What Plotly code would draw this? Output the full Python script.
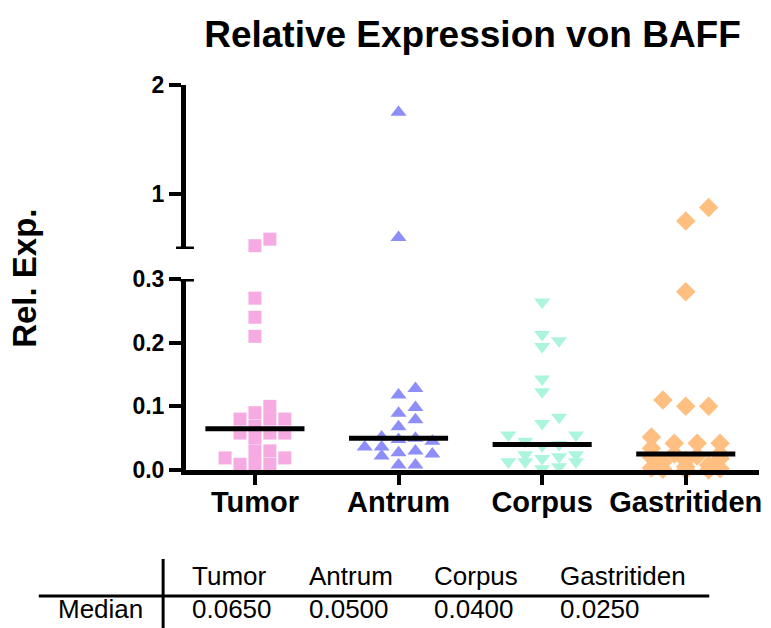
import plotly.graph_objects as go

# ---------------- data ----------------
categories = ["Tumor", "Antrum", "Corpus", "Gastritiden"]
tumor = [0.59, 0.53, 0.27, 0.24, 0.21, 0.10, 0.09, 0.08, 0.08, 0.08, 0.069,
         0.058, 0.058, 0.058, 0.05, 0.03, 0.029, 0.019, 0.019, 0.009, 0.009, 0.009]
antrum = [1.75, 0.606, 0.128, 0.118, 0.098, 0.089, 0.079, 0.068, 0.052, 0.05,
          0.048, 0.045, 0.036, 0.036, 0.03, 0.027, 0.025, 0.022, 0.008, 0.008]
corpus = [0.264, 0.213, 0.203, 0.194, 0.143, 0.123, 0.083, 0.073, 0.055, 0.055,
          0.045, 0.04, 0.038, 0.024, 0.024, 0.021, 0.018, 0.013, 0.013, 0.013, 0.005, 0.002]
gastritiden = [0.879, 0.757, 0.28, 0.11, 0.10, 0.10, 0.052, 0.042, 0.042, 0.042, 0.034,
               0.025, 0.025, 0.022, 0.02, 0.018, 0.015, 0.012, 0.008, 0.005, 0.003,
               0.002, 0.001, 0.0, 0.0]
series = [tumor, antrum, corpus, gastritiden]
medians = [0.065, 0.050, 0.040, 0.025]
median_labels = ["0.0650", "0.0500", "0.0400", "0.0250"]
low_ticks = [0.0, 0.1, 0.2, 0.3]
low_ticktext = ["0.0", "0.1", "0.2", "0.3"]
high_ticks = [1, 2]
high_ticktext = ["1", "2"]

# ---------------- layout constants ----------------
W, H = 771, 628
ML, MR, MT, MB = 186, 9, 85, 158
PW, PH = W - ML - MR, H - MT - MB
XRANGE = [0.52, 4.51]
LOW_RANGE, HIGH_RANGE = [0.0, 0.3], [0.5, 2.0]
LOW_DOM, HIGH_DOM = [0.0, 0.496], [0.574, 1.0]
BREAK = 0.3
FONT = "Liberation Sans, Arial, Helvetica, sans-serif"
MAX_SPREAD_PX = 40

styles = [
    dict(symbol="square", size=13, color="#F5AAE2", sx=15, sy=12),
    dict(symbol="triangle-up", size=14, color="#8E8EF8", sx=17, sy=12),
    dict(symbol="triangle-down", size=14, color="#ABF5DC", sx=17, sy=12),
    dict(symbol="diamond", size=15, color="#FFBF80", sx=23, sy=15),
]

px_per_x = PW / (XRANGE[1] - XRANGE[0])


def value_to_py(v):
    if v <= BREAK:
        rng, dom = LOW_RANGE, LOW_DOM
    else:
        rng, dom = HIGH_RANGE, HIGH_DOM
    frac = dom[0] + (v - rng[0]) / (rng[1] - rng[0]) * (dom[1] - dom[0])
    return frac * PH


def beeswarm(values, sx, sy):
    order = sorted(range(len(values)), key=lambda i: values[i])
    placed = []
    offs = [0.0] * len(values)
    step = sx / 2.0
    cands = [0.0]
    j = 1
    while j * step <= MAX_SPREAD_PX + 1e-9:
        cands += [j * step, -j * step]
        j += 1
    for i in order:
        y = value_to_py(values[i])
        best, best_cost = None, None
        for c in cands:
            cost = 0.0
            for px, py in placed:
                dx, dy = abs(c - px), abs(y - py)
                if dx < sx and dy < sy:
                    cost += (sx - dx) * (sy - dy)
            if cost == 0:
                best = c
                break
            if best_cost is None or cost < best_cost:
                best, best_cost = c, cost
        placed.append((best, y))
        offs[i] = best / px_per_x
    return offs


def pxx(px):
    return (px - ML) / PW


def pxy(py):
    return (H - MB - py) / PH


fig = go.Figure()

for i, (vals, st) in enumerate(zip(series, styles)):
    offs = beeswarm(vals, st["sx"], st["sy"])
    xs = [i + 1 + o for o in offs]
    lo = [(x, v) for x, v in zip(xs, vals) if v <= BREAK]
    hi = [(x, v) for x, v in zip(xs, vals) if v > BREAK]
    mk = dict(symbol=st["symbol"], size=st["size"], color=st["color"], line=dict(width=0))
    fig.add_trace(go.Scatter(x=[p[0] for p in lo], y=[p[1] for p in lo], mode="markers",
                             marker=mk, yaxis="y", cliponaxis=False, showlegend=False,
                             name=categories[i]))
    if hi:
        fig.add_trace(go.Scatter(x=[p[0] for p in hi], y=[p[1] for p in hi], mode="markers",
                                 marker=mk, yaxis="y2", cliponaxis=False, showlegend=False,
                                 name=categories[i]))

# median lines
for i, m in enumerate(medians):
    fig.add_trace(go.Scatter(x=[i + 1 - 0.345, i + 1 + 0.345], y=[m, m], mode="lines",
                             line=dict(color="black", width=5), yaxis="y",
                             cliponaxis=False, showlegend=False, hoverinfo="skip"))

axis_common = dict(showline=True, linecolor="black", linewidth=5, ticks="outside",
                   tickcolor="black", tickwidth=4, ticklen=12, showgrid=False,
                   zeroline=False, tickfont=dict(family=FONT, size=23, color="black", weight="bold"))

fig.update_layout(
    width=W, height=H,
    margin=dict(l=ML, r=MR, t=MT, b=MB),
    paper_bgcolor="white", plot_bgcolor="white",
    title=dict(text="Relative Expression von BAFF", x=0.5, xref="paper", xanchor="center",
               y=1 - 34 / H, yanchor="middle",
               font=dict(family=FONT, size=37, color="black", weight="bold")),
    xaxis=dict(range=XRANGE, tickvals=[1, 2, 3, 4], ticktext=categories,
               showline=True, linecolor="black", linewidth=5, ticks="outside",
               tickcolor="black", tickwidth=4, ticklen=10, showgrid=False, zeroline=False,
               ticklabelstandoff=-8,
               anchor="y", tickfont=dict(family=FONT, size=29, color="black", weight="bold")),
    yaxis=dict(domain=LOW_DOM, range=LOW_RANGE, tickvals=low_ticks, ticktext=low_ticktext,
               anchor="x", **axis_common),
    yaxis2=dict(domain=HIGH_DOM, range=HIGH_RANGE, tickvals=high_ticks, ticktext=high_ticktext,
                anchor="x", **axis_common),
)

# axis-break caps
fig.add_shape(type="line", xref="paper", yref="y2", x0=pxx(176), x1=pxx(194), y0=0.5, y1=0.5,
              line=dict(color="black", width=5))
fig.add_shape(type="line", xref="paper", yref="y", x0=pxx(180), x1=pxx(194), y0=0.3, y1=0.3,
              line=dict(color="black", width=5))

# y title
fig.add_annotation(text="<b>Rel. Exp.</b>", xref="paper", yref="paper", x=pxx(23), y=pxy(278),
                   textangle=-90, showarrow=False, xanchor="center", yanchor="middle",
                   font=dict(family=FONT, size=33, color="black"))

# median table
col_x = [190, 308, 433, 560]
for cx, cat, ml in zip(col_x, categories, median_labels):
    fig.add_annotation(text=cat, xref="paper", yref="paper", x=pxx(cx), y=pxy(576),
                       showarrow=False, xanchor="left", yanchor="middle",
                       font=dict(family=FONT, size=26, color="black"))
    fig.add_annotation(text=ml, xref="paper", yref="paper", x=pxx(cx), y=pxy(609),
                       showarrow=False, xanchor="left", yanchor="middle",
                       font=dict(family=FONT, size=26, color="black"))
fig.add_annotation(text="Median", xref="paper", yref="paper", x=pxx(145), y=pxy(609),
                   showarrow=False, xanchor="right", yanchor="middle",
                   font=dict(family=FONT, size=26, color="black"))
fig.add_shape(type="line", xref="paper", yref="paper", x0=pxx(38), x1=pxx(712),
              y0=pxy(596), y1=pxy(596), line=dict(color="black", width=3))
fig.add_shape(type="line", xref="paper", yref="paper", x0=pxx(163), x1=pxx(163),
              y0=pxy(559), y1=pxy(628), line=dict(color="black", width=3))

fig.write_html("out.html", config={"displayModeBar": False},
               post_script="document.body.style.margin='0';document.body.style.overflow='hidden';")
